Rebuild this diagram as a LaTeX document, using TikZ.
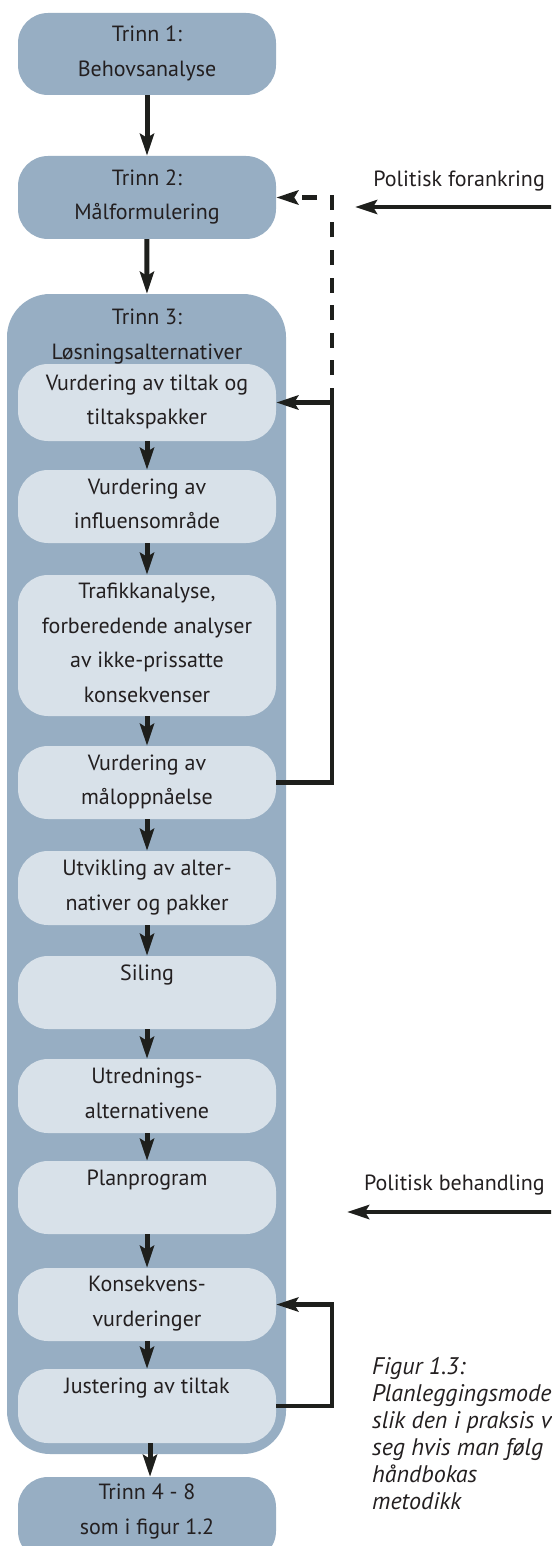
\documentclass[tikz,border=0pt]{standalone}
\usepackage{fontspec}
\setmainfont{PT Sans}
\usetikzlibrary{arrows.meta}
\definecolor{stepblue}{RGB}{151,174,195}
\definecolor{subfill}{RGB}{216,225,233}
\definecolor{ink}{RGB}{30,31,28}
\definecolor{txtgray}{RGB}{35,31,32}
\begin{document}
\begin{tikzpicture}[x=1pt,y=-1pt,
  every node/.style={text=txtgray},
  boxfont/.style={font=\fontsize{22}{34.5}\selectfont},
  mainstep/.style={fill=stepblue, rounded corners=30pt, minimum width=258pt,
    inner sep=0pt, align=center, boxfont,
    execute at begin node=\rule{0pt}{22pt},
    execute at end node=\rule[-6pt]{0pt}{0pt}},
  substep/.style={mainstep, fill=subfill},
  stage/.style={fill=stepblue, rounded corners=43pt, minimum width=279pt,
    minimum height=1160pt, inner sep=0pt},
  lbl/.style={inner sep=0pt, boxfont},
  captext/.style={inner sep=0pt, align=left,
    font=\fontsize{24}{27}\selectfont\itshape},
  tip/.style={-{Stealth[length=22pt,width=14pt,inset=4pt]}},
  flow/.style={line width=5pt, draw=ink, tip},
  side/.style={line width=4.5pt, draw=ink},
  sidearrow/.style={side, tip},
  dashline/.style={side, dash pattern=on 15pt off 12.5pt, tip},
]
\useasboundingbox (0,0) rectangle (551,1546);
\clip (0,0) rectangle (551,1546);

% outer steps
\node[mainstep, minimum height=82pt] (t1) at (147,54) {Trinn 1:\\Behovsanalyse};
\node[mainstep, minimum height=83pt] (t2) at (147,197.5) {Trinn 2:\\Målformulering};

% step 3 container with its sub-steps
\node[stage] (s3) at (146.5,874) {};
\node[lbl, align=center, anchor=north] (s3title) at (147,309) {Trinn 3:\\Løsningsalternativer};

\node[substep, minimum height=77pt]  (b1)  at (147,402.5)  {Vurdering av tiltak og\\tiltakspakker};
\node[substep, minimum height=73pt]  (b2)  at (147,506.5)  {Vurdering av\\influensområde};
\node[substep, minimum height=141pt] (b3)  at (147,645.5)  {Trafikkanalyse,\\forberedende analyser\\av ikke-prissatte\\konsekvenser};
\node[substep, minimum height=73pt]  (b4)  at (147,782.5)  {Vurdering av\\måloppnåelse};
\node[substep, minimum height=74pt]  (b5)  at (147,888)    {Utvikling av alter-\\nativer og pakker};
\node[substep, minimum height=73pt]  (b6)  at (147,992.5)  {Siling\\\mbox{}};
\node[substep, minimum height=74pt]  (b7)  at (147,1096)   {Utrednings-\\alternativene};
\node[substep, minimum height=73pt]  (b8)  at (147,1197.5) {Planprogram\\\mbox{}};
\node[substep, minimum height=73pt]  (b9)  at (147,1304.5) {Konsekvens-\\vurderinger};
\node[substep, minimum height=74pt]  (b10) at (147,1406)   {Justering av tiltak\\\mbox{}};

\node[mainstep, minimum height=84pt] (t4) at (147,1519) {Trinn 4 - 8\\som i figur 1.2\rule[-20pt]{0pt}{0pt}};

% main flow
\draw[flow] (t1) -- (t2);
\draw[flow] (t2) -- (s3);
\draw[flow] (b1) -- (b2);
\draw[flow] (b2) -- (b3);
\draw[flow] (b3) -- (b4);
\draw[flow] (b4) -- (b5);
\draw[flow] (b5) -- (b6);
\draw[flow] (b6) -- (b7);
\draw[flow] (b7) -- (b8);
\draw[flow] (b8) -- (b9);
\draw[flow] (b9) -- (b10);
\draw[flow] ([xshift=3pt]b10.south) -- ([xshift=3pt]t4.north);

% feedback from goal assessment
\coordinate (rail) at (332,402.5);
\draw[sidearrow] (b4.east) -| (rail) -- (b1.east);
\draw[dashline] (rail) |- (t2.east);

% adjustment loop
\coordinate (loop) at (332,1406);
\draw[sidearrow] (b10.east) -- (loop) |- (b9.east);

% political inputs
\node[lbl, anchor=base east] (pf) at (545,187) {Politisk forankring};
\coordinate (pfA) at (553,207);
\coordinate (pfB) at (355,207);
\draw[sidearrow] (pfA) -- (pfB);

\node[lbl, anchor=base east] (pb) at (545,1190) {Politisk behandling};
\coordinate (pbA) at (553,1212);
\coordinate (pbB) at (347,1212);
\draw[sidearrow] (pbA) -- (pbB);

% caption
\node[captext, anchor=north west] (cap) at (372,1357)
  {Figur 1.3:\\Planleggingsmode\\slik den i praksis v\\seg hvis man følg\\håndbokas\\metodikk};
\end{tikzpicture}
\end{document}
